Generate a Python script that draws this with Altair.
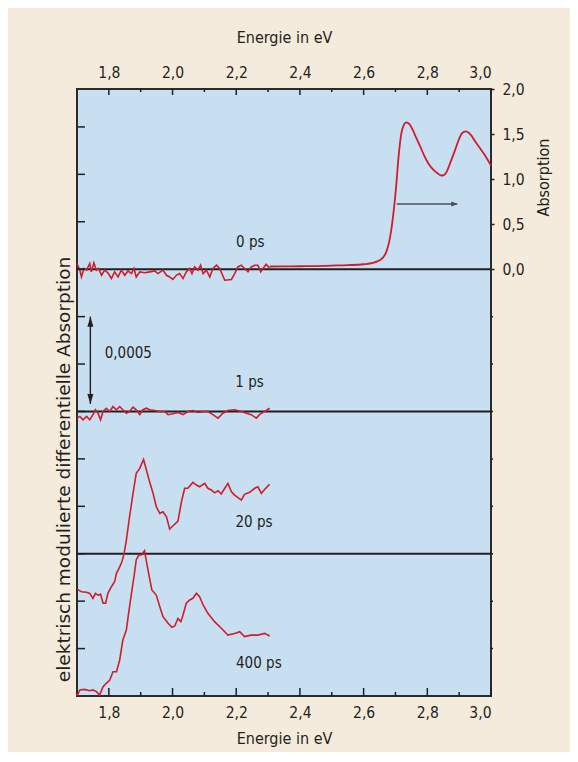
import altair as alt
import pandas as pd

FONT = "DejaVu Sans Condensed, Liberation Sans Narrow, sans-serif"
TITLE_FONT = "DejaVu Sans, sans-serif"
RED = "#cf1d2b"
INK = "#231f20"

# ---------------- data (energy in eV, signal in 1e-4 relative to own baseline) ----------------
E_0ps = [1.700, 1.709, 1.714, 1.722, 1.730, 1.740, 1.745, 1.753, 1.761, 1.768, 1.777, 1.787, 1.797,
         1.808, 1.818, 1.829, 1.839, 1.850, 1.860, 1.871, 1.879, 1.886, 1.897, 1.913, 1.928, 1.944,
         1.954, 1.970, 1.981, 1.991, 2.001, 2.012, 2.022, 2.033, 2.043, 2.054, 2.061, 2.069, 2.080,
         2.088, 2.096, 2.106, 2.117, 2.127, 2.138, 2.148, 2.164, 2.185, 2.195, 2.205, 2.216, 2.226,
         2.237, 2.247, 2.258, 2.268, 2.277, 2.284, 2.294, 2.305]
S_0ps = [0.30, -0.05, -0.41, 0.04, -0.05, 0.30, -0.14, 0.33, -0.05, 0.04, -0.32, -0.05, -0.19,
         -0.49, -0.14, -0.41, -0.05, -0.32, -0.09, -0.23, 0.04, -0.41, -0.14, -0.19, -0.14, -0.09,
         -0.23, -0.05, -0.32, -0.41, -0.54, -0.32, -0.23, -0.49, -0.14, 0.04, -0.23, 0.12, -0.05,
         0.21, -0.23, -0.05, -0.41, 0.04, 0.21, 0.04, -0.58, -0.54, -0.23, 0.12, 0.21, 0.04,
         -0.14, 0.12, 0.21, 0.21, -0.14, 0.04, 0.26, 0.04]

E_1ps = [1.700, 1.709, 1.719, 1.730, 1.740, 1.750, 1.758, 1.766, 1.774, 1.782, 1.792, 1.803, 1.813,
         1.824, 1.834, 1.844, 1.855, 1.865, 1.876, 1.886, 1.897, 1.907, 1.918, 1.928, 1.944, 1.960,
         1.975, 1.986, 2.001, 2.017, 2.033, 2.048, 2.064, 2.080, 2.096, 2.111, 2.127, 2.143, 2.158,
         2.174, 2.195, 2.216, 2.232, 2.247, 2.263, 2.273, 2.284, 2.294, 2.305]
S_1ps = [-0.35, -0.26, -0.44, -0.26, -0.44, -0.17, 0.09, -0.09, -0.44, 0.00, 0.17, 0.00, 0.26,
         0.09, 0.26, 0.09, -0.09, 0.00, 0.23, 0.09, -0.17, 0.09, 0.17, 0.09, 0.05, 0.00,
         0.00, -0.17, -0.12, -0.05, -0.17, 0.00, 0.05, -0.05, 0.00, 0.00, -0.17, -0.35, -0.09,
         0.05, 0.09, 0.00, -0.09, -0.17, -0.35, -0.17, -0.05, 0.05, 0.17]

E_20ps = [1.701, 1.714, 1.730, 1.740, 1.750, 1.758, 1.766, 1.774, 1.782, 1.790, 1.797, 1.808, 1.818,
          1.824, 1.834, 1.841, 1.848, 1.855, 1.865, 1.876, 1.886, 1.897, 1.909, 1.918, 1.928, 1.939,
          1.949, 1.960, 1.970, 1.981, 1.991, 2.001, 2.017, 2.028, 2.038, 2.048, 2.064, 2.075, 2.085,
          2.101, 2.111, 2.122, 2.132, 2.143, 2.153, 2.164, 2.174, 2.185, 2.195, 2.216, 2.226, 2.242,
          2.258, 2.268, 2.279, 2.289, 2.305]
S_20ps = [-1.88, -2.00, -2.03, -2.09, -2.35, -2.09, -2.18, -2.14, -2.61, -2.61, -2.09, -1.74, -1.48,
          -1.03, -0.69, -0.42, 0.02, 0.72, 1.95, 3.18, 4.24, 4.50, 4.97, 4.41, 3.79, 3.18,
          2.48, 2.13, 2.21, 1.95, 1.30, 1.46, 1.72, 2.74, 3.45, 3.45, 3.76, 3.62, 3.53,
          3.71, 3.45, 3.36, 3.21, 3.32, 3.15, 3.45, 3.71, 3.27, 3.09, 2.83, 3.13, 3.24,
          3.45, 3.53, 3.18, 3.39, 3.66]

E_400ps = [1.700, 1.709, 1.724, 1.740, 1.750, 1.761, 1.771, 1.782, 1.792, 1.803, 1.813, 1.824, 1.834,
           1.844, 1.855, 1.862, 1.871, 1.879, 1.886, 1.894, 1.902, 1.912, 1.923, 1.935, 1.949, 1.960,
           1.970, 1.986, 1.998, 2.007, 2.017, 2.026, 2.033, 2.043, 2.054, 2.064, 2.075, 2.085, 2.096,
           2.111, 2.132, 2.153, 2.174, 2.195, 2.211, 2.226, 2.247, 2.268, 2.289, 2.305]
S_400ps = [0.00, 0.32, 0.35, 0.28, 0.32, 0.23, 0.05, 0.49, 0.67, 0.84, 1.28, 1.28, 1.90,
           2.95, 3.48, 4.36, 5.41, 6.29, 7.17, 7.43, 7.43, 7.66, 6.64, 5.59, 5.32, 4.71,
           4.18, 3.83, 3.62, 3.69, 4.09, 3.92, 4.27, 4.89, 5.06, 5.15, 5.41, 5.23, 4.80,
           4.36, 3.92, 3.57, 3.21, 3.30, 3.39, 3.13, 3.21, 3.21, 3.30, 3.16]

# absorption spectrum (right axis)
E_abs = [2.305, 2.350, 2.400, 2.450, 2.500, 2.550, 2.600, 2.629, 2.645, 2.655, 2.665, 2.671, 2.680,
         2.687, 2.697, 2.703, 2.708, 2.713, 2.718, 2.726, 2.734, 2.744, 2.755, 2.765, 2.778, 2.791,
         2.804, 2.817, 2.830, 2.844, 2.852, 2.859, 2.872, 2.886, 2.897, 2.907, 2.915, 2.922, 2.930,
         2.938, 2.950, 2.964, 2.980, 3.000]
A_abs = [0.030, 0.031, 0.033, 0.035, 0.040, 0.045, 0.055, 0.070, 0.090, 0.110, 0.150, 0.190, 0.300,
         0.440, 0.730, 0.950, 1.180, 1.360, 1.500, 1.600, 1.630, 1.610, 1.540, 1.460, 1.360, 1.255,
         1.170, 1.110, 1.070, 1.040, 1.045, 1.070, 1.180, 1.310, 1.420, 1.500, 1.525, 1.530, 1.515,
         1.485, 1.420, 1.350, 1.270, 1.150]

series_names = ["0 ps", "1 ps", "20 ps", "400 ps"]
series_E = [E_0ps, E_1ps, E_20ps, E_400ps]
series_S = [S_0ps, S_1ps, S_20ps, S_400ps]
baselines = [22.5, 15.0, 7.5, 0.0]          # vertical offsets of the stacked traces (1e-4 units)
label_E = [2.244, 2.242, 2.256, 2.271]
label_y = [23.94, 16.56, 9.19, 1.72]

x_major = [1.8, 2.0, 2.2, 2.4, 2.6, 2.8, 3.0]
x_minor = [1.9, 2.1, 2.3, 2.5, 2.7, 2.9]
y_left_ticks = [2.5, 5.0, 7.5, 10.0, 12.5, 15.0, 17.5, 20.0, 22.5, 25.0, 27.5, 30.0]
y_right_minor = [2.5, 5.0, 7.5, 10.0, 12.5, 15.0, 17.5, 20.0]
abs_ticks = [0.0, 0.5, 1.0, 1.5, 2.0]

W, H = 414, 607
YMAX = 32.0
ABS_DOMAIN = [-22.5 / 4.75, 2.0]

# ---------------- tables ----------------
rows = []
for name, es, ss, b in zip(series_names, series_E, series_S, baselines):
    for e, s in zip(es, ss):
        rows.append({"E": e, "s": s, "b": b, "series": name})
traces = pd.DataFrame(rows)
absdf = pd.DataFrame({"E": E_abs, "a": A_abs})
labels = pd.DataFrame({"E": label_E, "y": label_y, "t": series_names})

xs = alt.Scale(domain=[1.7, 3.0], nice=False, zero=False)
ys = alt.Scale(domain=[0, YMAX], nice=False, zero=False)
ys_r = alt.Scale(domain=ABS_DOMAIN, nice=False, zero=False)

fmt = "replace(format(datum.value, '.1f'), '.', ',')"

top_axis = alt.Axis(orient="top", values=x_major, ticks=False, domain=False, grid=False,
                    labelExpr=fmt, labelFlush=True, labelPadding=9,
                    title="Energie in eV", titlePadding=20)
left_axis = alt.Axis(orient="left", labels=False, ticks=False, domain=False, grid=False,
                     title="elektrisch modulierte differentielle Absorption",
                     titleFont=TITLE_FONT, titleFontSize=18.5,
                     titleAngle=270, titleX=-14, titleY=380, titleAlign="center",
                     titleBaseline="middle")
bottom_axis = alt.Axis(orient="bottom", values=x_major, ticks=False, domain=False, grid=False,
                       labelExpr=fmt, labelFlush=True, labelPadding=9,
                       title="Energie in eV", titlePadding=10)
right_axis = alt.Axis(orient="right", values=abs_ticks, ticks=True, tickSize=3, tickWidth=1.5,
                      tickColor=INK, domain=False, grid=False, labelExpr=fmt, labelPadding=8,
                      title="Absorption", titleAngle=270, titleX=52, titleY=88,
                      titleAlign="center", titleBaseline="middle")

XA = alt.X("E:Q", scale=xs, axis=top_axis)
YA = alt.Y("y:Q", scale=ys, axis=left_axis)

base_lines = alt.Chart(pd.DataFrame({"y": baselines[:3]})).mark_rule(
    color=INK, strokeWidth=2).encode(y=YA, x=alt.value(0), x2=alt.value(W))

trace_lines = alt.Chart(traces).transform_calculate(y="datum.s + datum.b").mark_line(
    color=RED, strokeWidth=1.6, interpolate="linear").encode(x=XA, y=YA, detail="series:N")

trace_labels = alt.Chart(labels).mark_text(align="center", baseline="middle").encode(
    x=XA, y=YA, text="t:N")

# scale arrow 0,0005
arrow_df = pd.DataFrame({"E": [1.742], "y": [20.0], "y2": [15.4]})
arrow_line = alt.Chart(arrow_df).mark_rule(color=INK, strokeWidth=1.4).encode(
    x=XA, y=YA, y2=alt.Y2("y2:Q"))
arrow_up = alt.Chart(pd.DataFrame({"E": [1.742], "y": [20.0]})).mark_point(
    shape="M0,0L0.6,2L-0.6,2Z", size=100, filled=True, opacity=1, color=INK).encode(x=XA, y=YA)
arrow_dn = alt.Chart(pd.DataFrame({"E": [1.742], "y": [15.4]})).mark_point(
    shape="M0,0L0.6,-2L-0.6,-2Z", size=100, filled=True, opacity=1, color=INK).encode(x=XA, y=YA)
scale_text = alt.Chart(pd.DataFrame({"E": [1.787], "y": [18.08], "t": ["0,0005"]})).mark_text(
    align="left", baseline="middle").encode(x=XA, y=YA, text="t:N")

# axis ticks drawn inward
top_major = alt.Chart(pd.DataFrame({"E": x_major})).mark_rule(color=INK, strokeWidth=1.5).encode(
    x=XA, y=alt.value(0), y2=alt.value(6))
top_minor = alt.Chart(pd.DataFrame({"E": x_minor})).mark_rule(color=INK, strokeWidth=1.5).encode(
    x=XA, y=alt.value(0), y2=alt.value(3))
bot_major = alt.Chart(pd.DataFrame({"E": x_major})).mark_rule(color=INK, strokeWidth=1.5).encode(
    x=XA, y=alt.value(H - 8), y2=alt.value(H))
bot_minor = alt.Chart(pd.DataFrame({"E": x_minor})).mark_rule(color=INK, strokeWidth=1.5).encode(
    x=XA, y=alt.value(H - 4), y2=alt.value(H))
left_ticks = alt.Chart(pd.DataFrame({"y": y_left_ticks})).mark_rule(color=INK, strokeWidth=1.5).encode(
    y=YA, x=alt.value(0), x2=alt.value(8))
right_minor = alt.Chart(pd.DataFrame({"y": y_right_minor})).mark_rule(color=INK, strokeWidth=1.5).encode(
    y=YA, x=alt.value(W), x2=alt.value(W + 2))

layerA = alt.layer(base_lines, trace_lines, trace_labels, arrow_line, arrow_up, arrow_dn,
                   scale_text, top_major, top_minor, bot_major, bot_minor, left_ticks, right_minor)

XB = alt.X("E:Q", scale=xs, axis=bottom_axis)
YB = alt.Y("a:Q", scale=ys_r, axis=right_axis)

abs_line = alt.Chart(absdf).mark_line(color=RED, strokeWidth=1.8, interpolate="monotone").encode(
    x=XB, y=YB)
garrow_df = pd.DataFrame({"E": [2.704], "E2": [2.893], "a": [0.725]})
garrow_line = alt.Chart(garrow_df).mark_rule(color="#4d5157", strokeWidth=1.5).encode(
    x=XB, x2=alt.X2("E2:Q"), y=YB)
garrow_head = alt.Chart(pd.DataFrame({"E": [2.897], "a": [0.725]})).mark_point(
    shape="M0,0L-3.5,-1.25L-3.5,1.25Z", size=16, filled=True, opacity=1, color="#4d5157").encode(
    x=XB, y=YB)

layerB = alt.layer(abs_line, garrow_line, garrow_head)

chart = alt.layer(layerA, layerB).resolve_scale(x="independent", y="independent").properties(
    width=W, height=H,
    autosize=alt.AutoSizeParams(type="none"),
    padding={"left": 69, "top": 81, "right": 79, "bottom": 56},
    background="#f5ebdd",
).configure_view(
    fill="#c8dff2", stroke="#2b2b2b", strokeWidth=2
).configure_axis(
    labelFont=FONT, titleFont=FONT, labelFontSize=15.5, titleFontSize=16,
    labelColor=INK, titleColor=INK, titleFontWeight="normal"
).configure_text(
    font=FONT, fontSize=15, color=INK
)

chart.save("out.html", embed_options={"renderer": "svg", "actions": False})
